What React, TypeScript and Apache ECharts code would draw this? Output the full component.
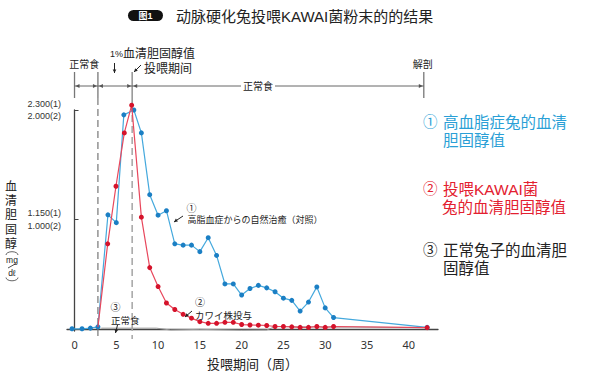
import React, { useEffect, useRef } from "react";
import * as echarts from "echarts";

// ① hyperlipidemic control rabbits (blue, own scale: 2300 at top)
const blueWeeks = [-0.3, 0.9, 1.9, 2.8, 4, 5, 5.9, 7.1, 8, 9, 10, 11, 12, 13, 14, 15, 16, 17, 18, 19, 20, 21, 22, 23, 24, 25, 26, 27, 28, 29, 30, 31, 42.2];
const blueValues = [6, 6, 13, 26, 1201, 1119, 2249, 2300, 2060, 1412, 1197, 1244, 897, 883, 883, 815, 961, 775, 476, 476, 360, 428, 461, 435, 394, 327, 304, 192, 286, 445, 225, 124, 21];

// ② KAWAI strain fed rabbits (red, scale: 2000 at top)
const redWeeks = [2.8, 3.97, 4.96, 5.96, 6.84, 8, 9, 10, 11, 12, 13, 14, 15, 16, 17, 18, 19, 20, 21, 22, 23, 24, 25, 26, 27, 28, 29, 30, 31, 42.2];
const redValues = [20, 780, 1305, 1791, 2044, 1023, 563, 390, 240, 181, 137, 102, 70, 55, 55, 64, 64, 44, 40, 38, 35, 26, 26, 23, 18, 18, 26, 18, 26, 16];

// ③ normal rabbits (gray)
const grayWeeks = [3.2, 9.8, 11.5, 15, 20, 23, 24, 42.2];
const grayValues = [11, 11, -6, 0, -8, -6, 25, 16];

const xTicks = [0, 5, 10, 15, 20, 25, 30, 35, 40];
const yTickValues = [1000, 2000];
const yTickBlue = ["1.150(1)", "2.300(1)"];
const yTickRed = ["1.000(2)", "2.000(2)"];

// period boundaries (weeks) for the top bracket
const periodWeeks = [0, 2.8, 6.9, 41.8];

const yTitleChars = ["血", "清", "胆", "固", "醇"];

const CJK = '"Liberation Sans", "Noto Sans CJK SC", sans-serif';
const JP = '"Liberation Sans", "Noto Sans CJK JP", sans-serif';

const BLUE_LINE = "#45a9dd";
const BLUE_DOT = "#1b7fc4";
const RED_LINE = "#e8475c";
const RED_DOT = "#d5132b";

function arrow(x1: number, y1: number, x2: number, y2: number, color = "#222"): any[] {
  const a = Math.atan2(y2 - y1, x2 - x1);
  const s = 3.5;
  const p1 = [x2 - s * Math.cos(a) + 1.8 * Math.sin(a), y2 - s * Math.sin(a) - 1.8 * Math.cos(a)];
  const p2 = [x2 - s * Math.cos(a) - 1.8 * Math.sin(a), y2 - s * Math.sin(a) + 1.8 * Math.cos(a)];
  return [
    { type: "line", z: 10, shape: { x1, y1, x2, y2 }, style: { stroke: color, lineWidth: 1 } },
    { type: "polygon", z: 10, shape: { points: [[x2, y2], p1, p2] }, style: { fill: color } },
  ];
}

function tri(x: number, y: number, dir: number): any {
  return {
    type: "polygon",
    z: 10,
    shape: { points: [[x, y], [x - dir * 4, y - 2], [x - dir * 4, y + 2]] },
    style: { fill: "#555" },
  };
}

function txt(x: number, y: number, text: string, opts: any = {}): any {
  return {
    type: "text",
    z: 10,
    x,
    y,
    style: {
      text,
      fill: opts.fill || "#222",
      font: `${opts.weight || "normal"} ${opts.size || 12}px ${opts.family || CJK}`,
      align: opts.align || "left",
      verticalAlign: opts.va || "middle",
      lineHeight: opts.lh,
      rich: opts.rich,
    },
  };
}

function buildGraphics(px: (w: number) => number): any[] {
  const [x0, x1, x2, x3] = periodWeeks.map(px);
  const yTop = 72;
  const yBr = 98;
  const yBase = 339;
  const yH = 86;
  const g: any[] = [];

  // title
  g.push({ type: "rect", z: 10, shape: { x: 128, y: 10, width: 35, height: 11, r: 5.5 }, style: { fill: "#111" } });
  g.push(txt(145.5, 15.8, "图1", { fill: "#fff", size: 9, weight: "bold", align: "center" }));
  g.push(txt(176, 16, "动脉硬化兔投喂KAWAI菌粉末的的结果", { size: 15 }));

  // top bracket verticals
  g.push({ type: "line", z: 1, shape: { x1: x0, y1: yTop, x2: x0, y2: yBr }, style: { stroke: "#777", lineWidth: 1.3 } });
  g.push({ type: "line", z: 1, shape: { x1: x3, y1: yTop, x2: x3, y2: yBr }, style: { stroke: "#777", lineWidth: 1.3 } });
  g.push({ type: "line", z: 1, shape: { x1: x1, y1: yTop, x2: x1, y2: yBr }, style: { stroke: "#777", lineWidth: 1.3 } });
  g.push({ type: "line", z: 1, shape: { x1: x1, y1: yBr, x2: x1, y2: yBase }, style: { stroke: "#777", lineWidth: 1.2, lineDash: [7, 4] } });
  g.push({ type: "line", z: 1, shape: { x1: x2, y1: yTop, x2: x2, y2: 104 }, style: { stroke: "#999", lineWidth: 1.6 } });
  g.push({ type: "line", z: 1, shape: { x1: x2, y1: 104, x2: x2, y2: yBase }, style: { stroke: "#aaa", lineWidth: 1.6, lineDash: [7, 4] } });

  // horizontal bracket with gap for label
  g.push({ type: "line", z: 1, shape: { x1: x0, y1: yH, x2: 241, y2: yH }, style: { stroke: "#666", lineWidth: 1 } });
  g.push({ type: "line", z: 1, shape: { x1: 275, y1: yH, x2: x3, y2: yH }, style: { stroke: "#666", lineWidth: 1 } });
  g.push(tri(x0 + 1, yH, -1), tri(x1 - 1, yH, 1), tri(x1 + 1, yH, -1), tri(x2 - 1, yH, 1), tri(x2 + 1, yH, -1), tri(x3 - 1, yH, 1));

  g.push(txt((x0 + x1) / 2 - 2, 64, "正常食", { size: 10, align: "center" }));
  g.push(txt(110, 54, "{s|1%}{b|血清胆固醇值}", { rich: { s: { fontSize: 9, fontFamily: CJK, fill: "#222" }, b: { fontSize: 12, fontFamily: CJK, fill: "#222" } } }));
  g.push(...arrow(114.5, 63, 114.5, 73));
  g.push(...arrow(141, 65, 134, 72));
  g.push(txt(144, 69, "投喂期间", { size: 12 }));
  g.push(txt(258, yH, "正常食", { size: 10, align: "center" }));
  g.push(txt(x3 - 1, 64, "解剖", { size: 10, align: "center" }));

  // y axis title (vertical)
  yTitleChars.forEach((c, i) => g.push(txt(11, 187 + i * 14.2, c, { size: 12, align: "center" })));
  g.push({ type: "arc", z: 10, x: 12, y: 255, scaleY: 0.55, shape: { cx: 0, cy: 0, r: 6, startAngle: Math.PI, endAngle: 2 * Math.PI }, style: { stroke: "#222", lineWidth: 0.9, fill: null } });
  g.push(txt(12, 259.5, "mg", { size: 8.5, align: "center" }));
  g.push({ type: "line", z: 10, shape: { x1: 8, y1: 268, x2: 16, y2: 263.5 }, style: { stroke: "#222", lineWidth: 0.8 } });
  g.push(txt(12, 272.5, "dℓ", { size: 8.5, align: "center" }));
  g.push({ type: "arc", z: 10, x: 12, y: 277.5, scaleY: 0.55, shape: { cx: 0, cy: 0, r: 6, startAngle: 0, endAngle: Math.PI }, style: { stroke: "#222", lineWidth: 0.9, fill: null } });

  // right-side legend
  g.push(txt(423, 122, "①", { size: 14.5, fill: "#2a9fd6" }));
  g.push(txt(443, 122, "高血脂症兔的血清", { size: 15.5, fill: "#2a9fd6" }));
  g.push(txt(443, 140, "胆固醇值", { size: 15.5, fill: "#2a9fd6" }));
  g.push(txt(423, 189, "②", { size: 14.5, fill: "#e3202f" }));
  g.push(txt(443, 189, "投喂KAWAI菌", { size: 15.5, fill: "#e3202f" }));
  g.push(txt(442, 207, "兔的血清胆固醇值", { size: 15.5, fill: "#e3202f" }));
  g.push(txt(423, 250, "③", { size: 14.5, fill: "#222" }));
  g.push(txt(443, 250, "正常兔子的血清胆", { size: 15.5, fill: "#222" }));
  g.push(txt(443, 268, "固醇值", { size: 15.5, fill: "#222" }));

  // in-plot annotations
  g.push(txt(191.5, 208, "①", { size: 10, align: "center" }));
  g.push(txt(187.5, 219.5, "高脂血症からの自然治癒（対照）", { size: 9, family: JP }));
  g.push(...arrow(183, 216, 174, 222));
  g.push(txt(200, 302, "②", { size: 10, align: "center" }));
  g.push(txt(195, 315, "カワイ株投与", { size: 9.5, family: JP }));
  g.push(...arrow(192, 311, 185, 317));
  g.push(txt(115.5, 307, "③", { size: 10, align: "center" }));
  g.push(txt(111, 320, "正常食", { size: 9.5 }));
  g.push(...arrow(117.5, 325, 115.5, 333));

  return g;
}

function buildOption(): any {
  const blue = blueWeeks.map((w, i) => [w, blueValues[i]]);
  const red = redWeeks.map((w, i) => (i === 0 ? { value: [w, redValues[i]], symbol: "none" } : [w, redValues[i]]));
  const gray = grayWeeks.map((w, i) => [w, grayValues[i]]);
  return {
    animation: false,
    backgroundColor: "#fff",
    textStyle: { fontFamily: CJK },
    grid: { left: 67, top: 110, right: 172, bottom: 37 },
    xAxis: {
      type: "value",
      min: -0.9,
      max: 43.5,
      name: "投喂期间（周）",
      nameLocation: "middle",
      nameGap: 27,
      nameTextStyle: { fontSize: 13, color: "#222", fontFamily: CJK },
      axisLine: { show: true, lineStyle: { color: "#444", width: 1.3 } },
      axisTick: { show: false },
      splitLine: { show: false },
      axisLabel: { customValues: xTicks, fontSize: 11, color: "#333", margin: 8, fontFamily: '"Noto Sans", sans-serif' },
    },
    yAxis: [
      {
        type: "value",
        min: -15,
        max: 2000,
        axisLine: { show: true, lineStyle: { color: "#444", width: 1.3 } },
        axisTick: { show: true, inside: true, length: 4, customValues: yTickValues, lineStyle: { color: "#444" } },
        splitLine: { show: false },
        axisLabel: {
          customValues: yTickValues,
          margin: 6,
          fontSize: 9,
          lineHeight: 12.5,
          color: "#333",
          fontFamily: '"Liberation Sans Narrow", "Liberation Sans", sans-serif',
          formatter: (v: number) => {
            const i = yTickValues.indexOf(v);
            return i >= 0 ? `${yTickBlue[i]}\n${yTickRed[i]}` : "";
          },
        },
      },
      { type: "value", min: -17.25, max: 2300, show: false },
    ],
    series: [
      {
        type: "line",
        yAxisIndex: 0,
        data: gray,
        symbol: "none",
        clip: false,
        lineStyle: { color: "#9a9a9a", width: 1 },
        z: 2,
      },
      {
        type: "line",
        yAxisIndex: 1,
        data: blue,
        symbol: "circle",
        symbolSize: 5,
        clip: false,
        itemStyle: { color: BLUE_DOT },
        lineStyle: { color: BLUE_LINE, width: 1.2 },
        z: 3,
      },
      {
        type: "line",
        yAxisIndex: 0,
        data: red,
        symbol: "circle",
        symbolSize: 5,
        clip: false,
        itemStyle: { color: RED_DOT },
        lineStyle: { color: RED_LINE, width: 1.2 },
        z: 4,
      },
    ],
  };
}

export default function App() {
  const ref = useRef<HTMLDivElement>(null);
  useEffect(() => {
    const chart = echarts.init(ref.current!, null, { renderer: "svg" });
    chart.setOption(buildOption());
    const px = (w: number) => chart.convertToPixel({ xAxisIndex: 0 }, w) as number;
    chart.setOption({ graphic: { elements: buildGraphics(px) } });
    return () => chart.dispose();
  }, []);
  return (
    <div
      ref={ref}
      style={{ position: "absolute", left: 0, top: 0, width: 610, height: 376, background: "#fff" }}
    />
  );
}
